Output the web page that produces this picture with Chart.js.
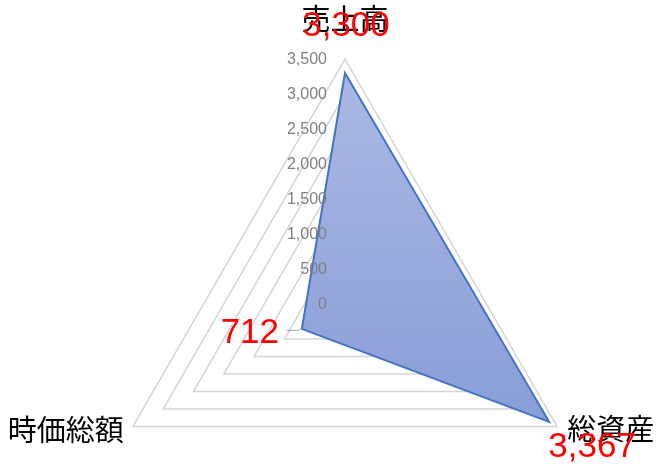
<!DOCTYPE html>
<html lang="ja">
  <head>
    <meta charset="UTF-8" />
    <title>売上高・総資産・時価総額</title>
    <script src="https://cdn.jsdelivr.net/npm/chart.js"></script>
    <style>
      html, body { margin: 0; padding: 0; background: #fff; overflow: hidden; width: 670px; height: 469px; }
      canvas { display: block; }
    </style>
  </head>
  <body>
    <!-- canvas is taller than the window: the radar circle runs past the bottom edge -->
    <canvas id="radarChart" width="670" height="549"></canvas>
    <script>
      const categories = ['売上高', '総資産', '時価総額'];
      const values = [3300, 3367, 712];
      const tickMin = 0;
      const tickMax = 3500;
      const tickStep = 500;

      const jpFont = '"Noto Sans CJK JP", sans-serif';
      const numFont = '"Liberation Sans", Arial, sans-serif';

      // offsets of the category names from the outer ring's vertices
      const catOffsets = [
        { dx: 0, dy: -40, align: 'center' },
        { dx: 10, dy: 2, align: 'left' },
        { dx: -9, dy: 3, align: 'right' },
      ];
      // offsets of the red value labels from the data points
      const valOffsets = [
        { dx: 1, dy: -47 },
        { dx: 43, dy: 25 },
        { dx: -52, dy: 4 },
      ];

      const fmt = (v) => v.toLocaleString('en-US');

      const labelPlugin = {
        id: 'excelLabels',
        afterDatasetsDraw: (chart) => {
          const ctx = chart.ctx;
          const scale = chart.scales.r;
          ctx.save();

          // value axis ticks, right aligned left of the vertical axis
          ctx.font = '16px ' + numFont;
          ctx.fillStyle = '#7f7f7f';
          ctx.textAlign = 'right';
          ctx.textBaseline = 'middle';
          scale.ticks.forEach((t) => {
            const d = scale.getDistanceFromCenterForValue(t.value);
            ctx.fillText(fmt(t.value), scale.xCenter - 18, scale.yCenter - d + 1);
          });

          // category names
          ctx.font = '29px ' + jpFont;
          ctx.fillStyle = '#000';
          categories.forEach((c, i) => {
            const p = scale.getPointPosition(i, scale.drawingArea);
            const o = catOffsets[i];
            ctx.textAlign = o.align;
            ctx.fillText(c, p.x + o.dx, p.y + o.dy);
          });

          // leader line for the small value
          const meta = chart.getDatasetMeta(0);
          const lp = meta.data[2];
          ctx.strokeStyle = '#a6a6a6';
          ctx.lineWidth = 1;
          ctx.beginPath();
          ctx.moveTo(lp.x - 15, lp.y + 1.5);
          ctx.lineTo(lp.x - 5, lp.y + 1.5);
          ctx.quadraticCurveTo(lp.x - 2, lp.y + 1, lp.x, lp.y - 1);
          ctx.stroke();

          // red data labels
          ctx.font = '35px ' + numFont;
          ctx.fillStyle = '#ff0000';
          ctx.textAlign = 'center';
          meta.data.forEach((pt, i) => {
            const o = valOffsets[i];
            ctx.fillText(fmt(values[i]), pt.x + o.dx, pt.y + o.dy);
          });
          ctx.restore();
        },
      };

      const canvas = document.getElementById('radarChart');
      const g = canvas.getContext('2d').createLinearGradient(0, 60, 0, 430);
      g.addColorStop(0, 'rgba(172, 186, 227, 1)');
      g.addColorStop(1, 'rgba(136, 157, 216, 1)');

      const config = {
        type: 'radar',
        data: {
          labels: categories,
          datasets: [
            {
              data: values,
              backgroundColor: g,
              borderColor: '#4472c4',
              borderWidth: 2,
              pointRadius: 0,
              pointHoverRadius: 0,
              fill: true,
              tension: 0,
            },
          ],
        },
        options: {
          responsive: false,
          animation: false,
          devicePixelRatio: 1,
          layout: {
            padding: { top: 59, bottom: 0, left: 100, right: 80 },
          },
          plugins: {
            legend: { display: false },
            tooltip: { enabled: false },
          },
          scales: {
            r: {
              min: tickMin,
              max: tickMax,
              ticks: { stepSize: tickStep, display: false },
              pointLabels: { display: false },
              angleLines: { display: false },
              grid: { color: '#d6d6d6', lineWidth: 1.5 },
            },
          },
        },
        plugins: [labelPlugin],
      };

      const radarChart = new Chart(canvas, config);
    </script>
  </body>
</html>
